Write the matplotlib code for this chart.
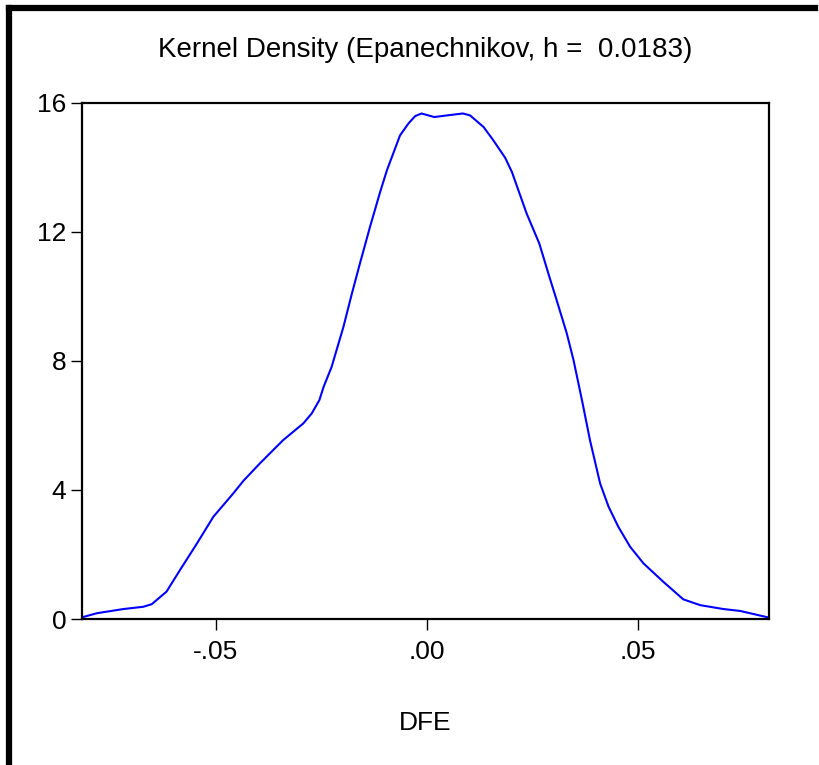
import matplotlib
matplotlib.use("Agg")
import matplotlib.pyplot as plt
from matplotlib.lines import Line2D

plt.rcParams["font.family"] = ["Liberation Sans", "DejaVu Sans"]

# kernel density estimate of DFE
dfe = [-0.0818, -0.0782, -0.0719, -0.0672, -0.0652, -0.0617, -0.0585, -0.0545,
       -0.0506, -0.0459, -0.0435, -0.0396, -0.0341, -0.0293, -0.0273, -0.0255,
       -0.0245, -0.0226, -0.0198, -0.0178, -0.0159, -0.0135, -0.0111, -0.0095,
       -0.0064, -0.0044, -0.0028, -0.0013, 0.0017, 0.0047, 0.0085, 0.0102,
       0.0134, 0.0157, 0.0185, 0.0201, 0.0236, 0.0266, 0.0291, 0.0307,
       0.0331, 0.0347, 0.0367, 0.0386, 0.0410, 0.0430, 0.0453, 0.0481,
       0.0513, 0.0560, 0.0607, 0.0647, 0.0702, 0.0742, 0.0808]
density = [0.05, 0.18, 0.31, 0.38, 0.46, 0.85, 1.52, 2.34,
           3.17, 3.89, 4.28, 4.82, 5.54, 6.06, 6.37, 6.78,
           7.19, 7.81, 9.05, 10.08, 11.01, 12.15, 13.23, 13.90,
           14.98, 15.35, 15.58, 15.66, 15.55, 15.60, 15.66, 15.60,
           15.24, 14.83, 14.29, 13.85, 12.56, 11.63, 10.55, 9.88,
           8.85, 8.02, 6.78, 5.54, 4.20, 3.48, 2.86, 2.24,
           1.72, 1.15, 0.61, 0.43, 0.31, 0.25, 0.05]

xticks = [-0.05, 0.0, 0.05]
xtick_labels = ["-.05", ".00", ".05"]
yticks = [0, 4, 8, 12, 16]

fig = plt.figure(figsize=(8.2, 7.65), dpi=100)
fig.patch.set_facecolor("white")
ax = fig.add_axes([0.0996, 0.1908, 0.8382, 0.6752])

ax.plot(dfe, density, color="#0000FF", linewidth=1.5)

ax.set_xlim(-0.0818, 0.0810)
ax.set_ylim(0, 16)
ax.set_xticks(xticks)
ax.set_xticklabels(xtick_labels)
ax.set_yticks(yticks)
ax.tick_params(direction="out", length=8, width=1.0, labelsize=19, colors="black")
ax.tick_params(axis="x", pad=7)
ax.tick_params(axis="y", pad=3)
for s in ax.spines.values():
    s.set_linewidth(1.6)
    s.set_color("black")

ax.set_title("Kernel Density (Epanechnikov, h =  0.0183)", fontsize=20, pad=33)
ax.set_xlabel("DFE", fontsize=19, labelpad=34)

# thick outer frame (left and top edges of the original page)
fig.add_artist(Line2D([9 / 820, 9 / 820], [0, 1 - 7.5 / 765], transform=fig.transFigure,
                      color="black", linewidth=4.5, solid_capstyle="projecting"))
fig.add_artist(Line2D([9 / 820, 815 / 820], [1 - 7.5 / 765, 1 - 7.5 / 765], transform=fig.transFigure,
                      color="black", linewidth=4.5, solid_capstyle="projecting"))

fig.savefig("out.png", dpi=100, facecolor="white")
